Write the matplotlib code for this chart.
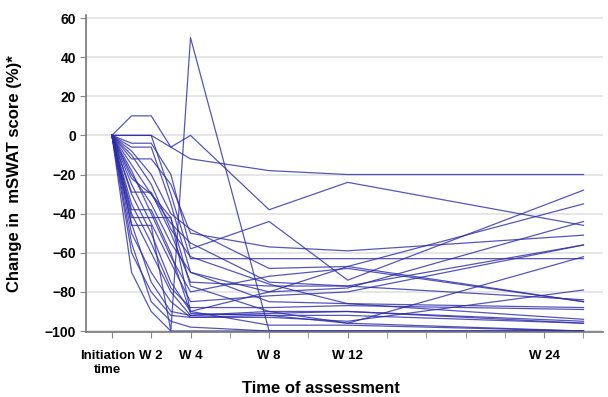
import numpy as np
import matplotlib
matplotlib.use('Agg')
import matplotlib.pyplot as plt
import matplotlib.transforms as mtrans

plt.rcParams['font.family'] = ['Liberation Sans', 'DejaVu Sans']

# assessment weeks (x positions) and one row per patient
weeks = [0, 1, 2, 3, 4, 8, 12, 24]
nan = np.nan
patients = [
    [0, 10, 10, -6, 0, -38, -24, -46],
    [0, 0, 0, nan, -12, -18, -20, -20],
    [0, -46, -46, -100, 50, -100, -100, -100],
    [0, -4, -4, -20, -58, -44, -74, -28],
    [0, 0, 0, -30, -63, -63, -63, -63],
    [0, -12, -12, -25, -50, -57, -59, -51],
    [0, -30, -50, -75, -90, -80, -67, -35],
    [0, -20, -35, -55, -70, -80, -78, -44],
    [0, -15, -30, -45, -55, -75, -77, -56],
    [0, -25, -45, -65, -85, -82, -80, -56],
    [0, -40, -60, -80, -92, -90, -96, -62],
    [0, -50, -70, -85, -93, -93, -95, -79],
    [0, -8, -20, -40, -48, -68, -67, -85],
    [0, -29, -29, -50, -75, -77, -77, -84],
    [0, -35, -55, -78, -88, -88, -87, -89],
    [0, -45, -75, -90, -92, -91, -90, -95],
    [0, -60, -80, -92, -93, -92, -92, -96],
    [0, -42, -42, -42, -90, -97, -97, -100],
    [0, -70, -90, -100, -100, -100, -100, -100],
    [0, -55, -85, -95, -98, -100, -100, -100],
    [0, -6, -6, -35, -70, -85, -86, -88],
    [0, -18, -40, -62, -80, -72, -68, -85],
    [0, -10, -25, -48, -62, -76, -86, -94],
    [0, -38, -38, -60, -91, -92, -96, -100],
    [0, -22, -30, -42, -77, -90, -90, -96],
]

tick_pos = [0, 2, 4, 8, 12, 22]
tick_labels = ['Initiation\ntime', 'W 2', 'W 4', 'W 8', 'W 12', 'W 24']
y_ticks = [60, 40, 20, 0, -20, -40, -60, -80, -100]

fig = plt.figure(figsize=(6.08, 3.97), dpi=100)
ax = fig.add_axes([0.1414, 0.1637, 0.8506, 0.7983])

for row in patients:
    row = np.array(row, dtype=float)
    ok = ~np.isnan(row)
    ax.plot(np.array(weeks)[ok], row[ok], color='#2c2ca8', lw=0.9, alpha=0.8)

ax.set_xlim(-1.32, 25.0)
ax.set_ylim(-100.5, 61.5)

ax.set_yticks(y_ticks)
ax.set_yticklabels([('\u2212%d' % -v) if v < 0 else str(v) for v in y_ticks],
                   fontsize=10, fontweight='bold')
ax.set_xticks(range(0, 25, 2), minor=True)
ax.set_xticks(tick_pos)
ax.set_xticklabels(tick_labels, fontsize=9.5, fontweight='bold')
ax.tick_params(axis='x', which='both', length=4, color='#888888', pad=9)
ax.tick_params(axis='y', length=4, color='#888888', pad=3)

# nudge the two-line first label a little left, as in the original
first = ax.get_xticklabels()[0]
first.set_transform(first.get_transform() +
                    mtrans.ScaledTranslation(-4 / 100, 0, fig.dpi_scale_trans))

ax.yaxis.grid(True, color='#e2e2e2', lw=1.2)
ax.set_axisbelow(True)

for s in ['top', 'right']:
    ax.spines[s].set_visible(False)
for s in ['left', 'bottom']:
    ax.spines[s].set_color('#777777')
    ax.spines[s].set_linewidth(1.2)

ax.set_ylabel('Change in  mSWAT score (%)*', fontsize=12, fontweight='bold')
ax.yaxis.set_label_coords(-0.124, 0.5)
ax.set_xlabel('Time of assessment', fontsize=12, fontweight='bold')
ax.xaxis.set_label_coords(0.455, -0.155)

fig.savefig('out.png', dpi=100)
